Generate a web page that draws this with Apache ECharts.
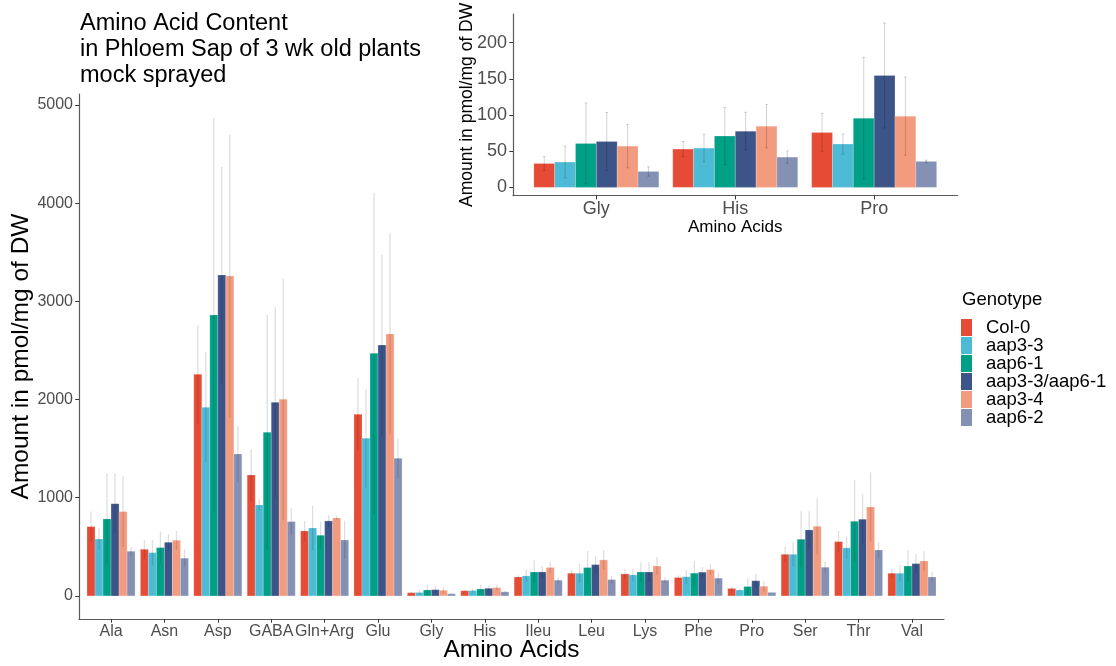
<!DOCTYPE html>
<html><head><meta charset="utf-8">
<script src="https://cdn.jsdelivr.net/npm/echarts@6/dist/echarts.min.js"></script>
<style>html,body{margin:0;padding:0;background:#fff}#c{width:1116px;height:666px}</style>
</head><body><div id="c"></div>
<script>
// ---------- data ----------
const categories = ['Ala','Asn','Asp','GABA','Gln+Arg','Glu','Gly','His','Ileu','Leu','Lys','Phe','Pro','Ser','Thr','Val'];
const genotypes = ['Col-0','aap3-3','aap6-1','aap3-3/aap6-1','aap3-4','aap6-2'];
const colors = ['#E64B35','#4DBBD5','#00A087','#3C5488','#F39B7F','#8491B4'];

const col0       = [706, 475, 2257, 1232, 662, 1850, 33, 52.9, 193, 231, 224, 187, 75.9, 424, 553, 231];
const col0Err    = [153,  95,  503,  265, 102,  373, 9.5, 10.5, 17,  30,  51,  23,  26,   78, 109,  44];
const aap33      = [580, 441, 1921,  927, 692, 1606, 35, 54.3, 204, 231, 214, 195, 59.8, 424, 489, 231];
const aap33Err   = [109, 129,  560,   57, 225,  502, 22, 19,    64,  95,  61,  72,  14,  123, 115,  85];
const aap61      = [784, 492, 2862, 1667, 618, 2471, 60.7, 70.8, 244, 289, 244, 232, 95.6, 577, 760, 305];
const aap61Err   = [465, 163, 2008, 1195, 139, 1636, 56, 39.5, 116, 169,  99, 123,  84,  285, 421, 163];
const aapDouble  = [940, 546, 3269, 1972, 764, 2556, 63.4, 77.7, 244, 319, 244, 242, 154.5, 672, 781, 329];
const aapDoubleErr=[309,  82, 1100,  968,  61,  917, 40, 26,    58,  88,  99,  52,  72.5, 190, 258,  99];
const aap34      = [859, 567, 3259, 2003, 794, 2668, 57, 84.6, 289, 367, 305, 268, 98.4, 709, 906, 356];
const aap34Err   = [363,  95, 1438, 1232,  21, 1025, 30, 30,    61,  98,  92,  55,  54,  289, 353, 102];
const aap62      = [455, 384, 1446,  757, 570, 1402, 22, 41.8, 160, 166, 160, 181, 35.9, 292, 468, 193];
const aap62Err   = [ 47,  91,  285,  136, 194,  204, 6.5, 8.5,  30,  38,  30,  58,  1.8,  54,  79,  51];

const insetCategories = ['Gly','His','Pro'];
const mainYTicks = [0,1000,2000,3000,4000,5000];
const insetYTicks = [0,50,100,150,200];

const means = [col0, aap33, aap61, aapDouble, aap34, aap62];
const errs  = [col0Err, aap33Err, aap61Err, aapDoubleErr, aap34Err, aap62Err];

// ---------- chart ----------
const FONT = "'Liberation Sans', Arial, Helvetica, sans-serif";
const chart = echarts.init(document.getElementById('c'), null, {renderer: 'canvas'});

function render(gi, cfg) {
  return function (params, api) {
    const x = api.value(0), v = api.value(1), e = api.value(2);
    const w = 0.9 / genotypes.length;
    const xl = x - 0.45 + gi * w, xc = xl + w / 2;
    const a = api.coord([xl, v]), b = api.coord([xl + w, 0]);
    const t = api.coord([xc, v + e]), bt = api.coord([xc, v - e]);
    const children = [
      {type: 'rect', shape: {x: a[0], y: a[1], width: b[0] - a[0], height: b[1] - a[1]},
       style: {fill: api.visual('color'), stroke: 'rgba(255,255,255,0.35)', lineWidth: 0.6}},
      {type: 'line', shape: {x1: t[0], y1: t[1], x2: bt[0], y2: bt[1]},
       style: {stroke: cfg.errColor, lineWidth: cfg.errWidth}}
    ];
    if (cfg.cap) {
      const h = cfg.cap / 2;
      [v + e, v - e].forEach(function (yy) {
        const l = api.coord([xc - h, yy]), r = api.coord([xc + h, yy]);
        children.push({type: 'line', shape: {x1: l[0], y1: l[1], x2: r[0], y2: r[1]},
          style: {stroke: cfg.errColor, lineWidth: cfg.errWidth}});
      });
    }
    return {type: 'group', children: children};
  };
}

const series = [];
genotypes.forEach(function (g, gi) {
  series.push({
    name: g, type: 'custom', xAxisIndex: 0, yAxisIndex: 0,
    renderItem: render(gi, {errColor: 'rgba(0,0,0,0.13)', errWidth: 1.3, cap: 0}),
    encode: {x: 0, y: 1},
    data: categories.map(function (c, i) { return [i + 1, means[gi][i], errs[gi][i]]; })
  });
});
genotypes.forEach(function (g, gi) {
  series.push({
    name: g, type: 'custom', xAxisIndex: 1, yAxisIndex: 1,
    renderItem: render(gi, {errColor: 'rgba(0,0,0,0.2)', errWidth: 0.9, cap: 0.02}),
    encode: {x: 0, y: 1},
    data: insetCategories.map(function (c, j) {
      const i = categories.indexOf(c);
      return [j + 1, means[gi][i], errs[gi][i]];
    })
  });
});

const axisLineStyle = {color: '#5a5a5a', width: 1.2};
const tickStyle = {color: '#333', width: 1};
const plain = function (v) { return String(v); };

const option = {
  animation: false,
  backgroundColor: '#fff',
  color: colors,
  textStyle: {fontFamily: FONT},
  title: [
    {text: 'Amino Acid Content\nin Phloem Sap of 3 wk old plants\nmock sprayed', left: 80, top: 11, padding: 0,
     textStyle: {fontFamily: FONT, fontSize: 23.5, lineHeight: 26, fontWeight: 'normal', color: '#000'}},
    {text: 'Genotype', left: 962, top: 290, padding: 0,
     textStyle: {fontFamily: FONT, fontSize: 18.5, fontWeight: 'normal', color: '#000'}}
  ],
  legend: {
    data: genotypes, orient: 'vertical', left: 961, top: 318, padding: 0,
    icon: 'rect', itemWidth: 11, itemHeight: 17, itemGap: -1,
    textStyle: {fontFamily: FONT, fontSize: 18.5, color: '#000', padding: [0, 0, 0, 9]}
  },
  grid: [
    {left: 79, right: 172, top: 94, bottom: 47, containLabel: false, outerBoundsMode: 'none'},
    {left: 513, right: 158.5, top: 14, bottom: 470.3, containLabel: false, outerBoundsMode: 'none'}
  ],
  xAxis: [
    {type: 'value', gridIndex: 0, min: 0.4, max: categories.length + 0.6,
     name: 'Amino Acids', nameLocation: 'middle', nameGap: 19, nameMoveOverlap: false,
     nameTextStyle: {fontFamily: FONT, fontSize: 24.5, color: '#000'},
     axisLine: {show: true, onZero: false, lineStyle: axisLineStyle},
     axisTick: {show: true, length: 3.7, lineStyle: tickStyle, customValues: categories.map(function (c, i) { return i + 1; })},
     axisLabel: {fontFamily: FONT, fontSize: 16, color: '#4D4D4D', margin: 5,
       customValues: categories.map(function (c, i) { return i + 1; }),
       formatter: function (v) { return categories[Math.round(v) - 1] || ''; }},
     splitLine: {show: false}},
    {type: 'value', gridIndex: 1, min: 0.4, max: insetCategories.length + 0.6,
     name: 'Amino Acids', nameLocation: 'middle', nameGap: 23, nameMoveOverlap: false,
     nameTextStyle: {fontFamily: FONT, fontSize: 17, color: '#000'},
     axisLine: {show: true, onZero: false, lineStyle: axisLineStyle},
     axisTick: {show: true, length: 3.7, lineStyle: tickStyle, customValues: insetCategories.map(function (c, i) { return i + 1; })},
     axisLabel: {fontFamily: FONT, fontSize: 18, color: '#4D4D4D', margin: 4,
       customValues: insetCategories.map(function (c, i) { return i + 1; }),
       formatter: function (v) { return insetCategories[Math.round(v) - 1] || ''; }},
     splitLine: {show: false}}
  ],
  yAxis: [
    {type: 'value', gridIndex: 0, min: -235, max: 5112,
     name: 'Amount in pmol/mg of DW', nameLocation: 'middle', nameGap: 45, nameMoveOverlap: false,
     nameTextStyle: {fontFamily: FONT, fontSize: 24.5, color: '#000'},
     axisLine: {show: true, onZero: false, lineStyle: axisLineStyle},
     axisTick: {show: true, length: 3.7, lineStyle: tickStyle, customValues: mainYTicks},
     axisLabel: {fontFamily: FONT, fontSize: 16, color: '#4D4D4D', margin: 6, customValues: mainYTicks, formatter: plain},
     splitLine: {show: false}},
    {type: 'value', gridIndex: 1, min: -11.5, max: 239.5,
     name: 'Amount in pmol/mg of DW', nameLocation: 'middle', nameGap: 37, nameMoveOverlap: false,
     nameTextStyle: {fontFamily: FONT, fontSize: 17.5, color: '#000'},
     axisLine: {show: true, onZero: false, lineStyle: axisLineStyle},
     axisTick: {show: true, length: 3.7, lineStyle: tickStyle, customValues: insetYTicks},
     axisLabel: {fontFamily: FONT, fontSize: 18, color: '#4D4D4D', margin: 6, customValues: insetYTicks, formatter: plain},
     splitLine: {show: false}}
  ],
  series: series
};
chart.setOption(option);
</script>
</body></html>
